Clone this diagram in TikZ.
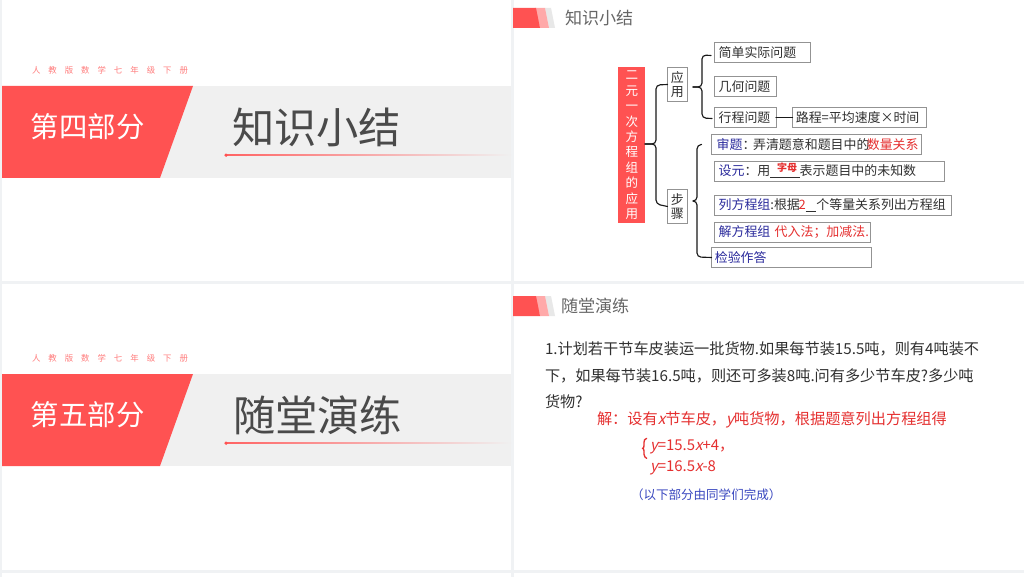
\documentclass[tikz,border=0pt]{standalone}
\usepackage{fontspec}
\setmainfont{Noto Sans CJK SC}
\newfontface\slantf{Noto Sans CJK SC}[FakeSlant=0.22]
\usetikzlibrary{calc}
\definecolor{rd}{HTML}{FF5252}
\definecolor{band}{HTML}{F0F0F0}
\definecolor{gut}{HTML}{F0F2F4}
\definecolor{txt}{HTML}{4A4A4A}
\definecolor{ink}{HTML}{303030}
\definecolor{navy}{HTML}{2A2A9C}
\definecolor{blu}{HTML}{3A48C0}
\definecolor{hot}{HTML}{E53030}
\newcommand{\xv}{{\slantf x}}
\newcommand{\yv}{{\slantf y}}
\newcommand{\boxline}[2][2pt]{\hspace*{#1}\raisebox{0.75pt}{\mbox{#2}}}
\tikzset{
 x=0.75pt,y=-0.75pt,
 fs/.style={font=\fontsize{#1}{#1}\selectfont},
 lab/.style={inner sep=0pt,outer sep=0pt,anchor=west},
 bx/.style={draw=gray!85,line width=0.6pt,rectangle,inner sep=0pt,outer sep=0pt,anchor=north west,fs=9.7,text=ink},
 conn/.style={draw=black!90,line width=0.85pt,line cap=round,rounded corners=3pt},
 sub/.style={lab,fs=6.3,text=rd!75},
 part/.style={lab,fs=21.3,text=white},
 ttl/.style={lab,fs=31.7,text=txt},
 head/.style={lab,fs=12.8,text=black!60},
}
\begin{document}
\begin{tikzpicture}
\useasboundingbox (0,0) rectangle (1024,577);
\fill[white] (0,0) rectangle (1024,577);
\fill[gut] (0,0) rectangle (2,577);
\fill[gut] (511,0) rectangle (514,577);
\fill[gut] (0,281) rectangle (1024,284);
\fill[gut] (0,570) rectangle (1024,573);
% section slides
\foreach \dy/\p/\t/\tx in {0/第四部分/知识小结/232,288/第五部分/随堂演练/233}{
 \begin{scope}[yshift=-0.75*\dy pt]
 \fill[band] (2,86) rectangle (511,178);
 \fill[rd] (2,86) -- (193,86) -- (160,178) -- (2,178) -- cycle;
 \node[part] at (31,126.5) {\p};
 \node[ttl] at (\tx,127) {\t};
 \node[sub] at (32,70) {人\hspace{6pt}教\hspace{6pt}版\hspace{6pt}数\hspace{6pt}学\hspace{6pt}七\hspace{6pt}年\hspace{6pt}级\hspace{6pt}下\hspace{6pt}册};
 \shade[left color=rd!90,middle color=rd!35,right color=band] (226,154.6) rectangle (511,155.8);
 \fill[rd] (226,155.2) circle (1.8);
 \end{scope}
}
% slide headers
\foreach \dy/\t/\tx in {0/知识小结/565,288/随堂演练/561}{
 \begin{scope}[yshift=-0.75*\dy pt]
 \fill[gray!18] (545,8) -- (551,8) -- (555,28) -- (549,28) -- cycle;
 \fill[rd!50] (535,8) -- (545,8) -- (549,28) -- (540,28) -- cycle;
 \fill[rd] (513,8) -- (536,8) -- (540,28) -- (513,28) -- cycle;
 \node[head] at (\tx,18) {\t};
 \end{scope}
}
% mind map
\node[fill=rd,text=white,anchor=north west,minimum width=27*0.75pt,minimum height=156*0.75pt,inner sep=0pt,align=center,font=\fontsize{9.4}{11.55}\selectfont] (root) at (618,67)
 {二\\元\\一\\次\\方\\程\\组\\的\\应\\用};
\node[bx,minimum width=19.5*0.75pt,minimum height=34*0.75pt,align=center,font=\fontsize{9.7}{11}\selectfont] (yy) at (667.5,67.5) {应\\用};
\node[bx,minimum width=19.5*0.75pt,minimum height=34*0.75pt,align=center,font=\fontsize{9.7}{11}\selectfont] (bz) at (667.5,189.5) {步\\骤};
\node[bx,minimum width=96*0.75pt,minimum height=20*0.75pt,text width=92*0.75pt,align=left] (a1) at (714,42.5) {\boxline{简单实际问题}};
\node[bx,minimum width=62*0.75pt,minimum height=20*0.75pt,text width=58*0.75pt,align=left] (a2) at (714,76.5) {\boxline{几何问题}};
\node[bx,minimum width=62*0.75pt,minimum height=20*0.75pt,text width=58*0.75pt,align=left] (a3) at (714,107.5) {\boxline{行程问题}};
\node[bx,minimum width=134*0.75pt,minimum height=20*0.75pt,text width=130*0.75pt,align=left] (a4) at (792.5,107.5) {\boxline[1pt]{路程=平均速度×时间}};
\node[bx,minimum width=210*0.75pt,minimum height=20*0.75pt,text width=206*0.75pt,align=left] (b1) at (711.5,134.5) {\boxline[2.4pt]{\textcolor{navy}{审题}：\hspace{-1.8pt}弄清题意和题目中的\hspace{-2pt}\textcolor{hot}{数量关系}}};
\node[bx,minimum width=230*0.75pt,minimum height=20*0.75pt,text width=226*0.75pt,align=left] (b2) at (714,161.5) {\boxline{\textcolor{navy}{设元}：用\rule[-2pt]{22pt}{0.7pt}表示题目中的未知数}};
\node[lab,text=hot,font=\bfseries\fontsize{7.5}{7.5}\selectfont] (zm) at (777,167.5) {字母};
\node[bx,minimum width=237*0.75pt,minimum height=20*0.75pt,text width=233*0.75pt,align=left] (b3) at (714,195) {\boxline{\textcolor{navy}{列方程组}:根据\hspace{-1pt}\textcolor{hot}{2}\rule[-2pt]{8pt}{0.7pt}个等量关系列出方程组}};
\node[bx,minimum width=156*0.75pt,minimum height=20*0.75pt,text width=152*0.75pt,align=left] (b4) at (714,222.5) {\boxline{\textcolor{navy}{解方程组} \textcolor{hot}{代入法；加减法.}}};
\node[bx,minimum width=160*0.75pt,minimum height=20*0.75pt,text width=156*0.75pt,align=left] (b5) at (711.5,247.5) {\boxline[1pt]{\textcolor{navy}{检验作答}}};
% connectors (braces)
\coordinate (rt) at (645,144);
\coordinate (ya) at (693,87);
\coordinate (zt) at (693,201);
\coordinate (a1e) at ($(a1.west)+(-3,3)$);
\coordinate (a3e) at ($(a3.west)+(-2,1)$);
\coordinate (b1e) at ($(b1.west)+(-10,0)$);
\draw[conn] (yy.west) -- (656,85) -- (656,144) -- (rt);
\draw[conn] (bz.west) -- (656,204) -- (656,144) -- (rt);
\draw[conn] (a1e) -- (702,55) -- (702,87) -- (ya);
\draw[conn] (a3e) -- (702,118) -- (702,87) -- (ya);
\draw[conn] (a3.east) -- (a4.west);
\draw[conn] (b1e) -- (697,145) -- (697,201) -- (zt);
\draw[conn] (b5.west) -- (697,257) -- (697,201) -- (zt);
% exercise slide
\node[lab,anchor=north west,text=ink,align=left,font=\fontsize{11.38}{19.9}\selectfont] (q) at (545,342)
 {1.计划若干节车皮装运一批货物.如果每节装15.5吨，则有4吨装不\\下，如果每节装16.5吨，则还可多装8吨.问有多少节车皮?多少吨\\货物?};
\node[lab,fs=11.4,text=hot] (s) at (597,419.5) {解：设有\xv 节车皮，\yv 吨货物，根据题意列出方程组得};
\node[lab,fs=11.2,text=hot] (e1) at (650,447) {\yv =15.5\xv +4，};
\node[lab,fs=11.2,text=hot] (e2) at (650,468) {\yv =16.5\xv -8};
\draw[hot,line width=1pt,line cap=round] (e1.west) ++(-2.5pt,6.5pt) .. controls +(-1.5pt,0) and +(0,1pt) .. ++(-2pt,-3pt) -- ++(0,-2.5pt) .. controls +(0,-1pt) and +(0.5pt,0) .. ++(-1pt,-2pt) .. controls +(0.5pt,0) and +(0,1pt) .. ++(1pt,-2pt) -- ++(0,-2.5pt) .. controls +(0,-1pt) and +(-1pt,0) .. ++(2pt,-3pt);
\node[lab,fs=9.4,text=blu] (n) at (631,494.5) {（以下部分由同学们完成）};
\end{tikzpicture}
\end{document}
